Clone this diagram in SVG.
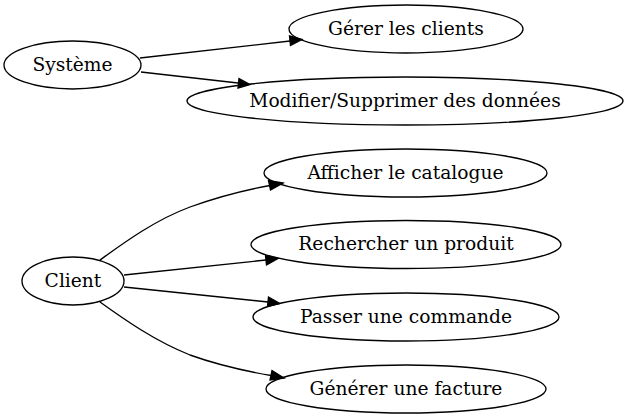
<svg xmlns="http://www.w3.org/2000/svg" width="629" height="419" viewBox="0 0 629 419">
<defs>
<style>
.n ellipse{fill:none;stroke:#000;stroke-width:1.33}
.n text{font-family:"DejaVu Serif",serif;font-size:18.67px;text-anchor:middle;fill:#000}
.e path{fill:none;stroke:#000;stroke-width:1.33}
.e polygon{fill:#000;stroke:#000;stroke-width:1.33}
</style>
</defs>
<rect width="629" height="419" fill="#fff"/>
<g id="edges" class="e">
<path d="M140,58 L290,41"/>
<polygon points="302,39.5 289.5,36 290.5,45.5"/>
<path d="M141,72 L238,83"/>
<polygon points="250,84.5 239,78.5 238,88"/>
<path d="M100,260 C125,242 155,220 190,207 C215,198 245,190 270,185.5"/>
<polygon points="283,183 268.5,180.5 270.5,190"/>
<path d="M124,275 L266,260"/>
<polygon points="278,258.5 265.5,255.5 266.5,265"/>
<path d="M124,287 L268,302"/>
<polygon points="280,303.5 268.5,297 267.5,306.5"/>
<path d="M100,302 C125,320 155,341 190,355 C215,364 245,371 271,375.5"/>
<polygon points="284,378 272,370.5 270,380"/>
</g>
<g id="sys" class="n"><ellipse cx="72.5" cy="65" rx="68.5" ry="24"/><text x="72.5" y="70.6">Système</text></g>
<g id="gerer" class="n"><ellipse cx="406" cy="29" rx="117" ry="24"/><text x="406" y="34.6">Gérer les clients</text></g>
<g id="modifier" class="n"><ellipse cx="405" cy="101" rx="218" ry="24"/><text x="405" y="106.6">Modifier/Supprimer des données</text></g>
<g id="client" class="n"><ellipse cx="73" cy="281" rx="51" ry="24"/><text x="73" y="286.6">Client</text></g>
<g id="afficher" class="n"><ellipse cx="405.5" cy="173" rx="141.5" ry="24"/><text x="405.5" y="178.6">Afficher le catalogue</text></g>
<g id="rechercher" class="n"><ellipse cx="406" cy="244.5" rx="155" ry="24"/><text x="406" y="250.1">Rechercher un produit</text></g>
<g id="passer" class="n"><ellipse cx="406" cy="317" rx="153" ry="24"/><text x="406" y="322.6">Passer une commande</text></g>
<g id="generer" class="n"><ellipse cx="406" cy="389" rx="140" ry="24"/><text x="406" y="394.6">Générer une facture</text></g>
</svg>
